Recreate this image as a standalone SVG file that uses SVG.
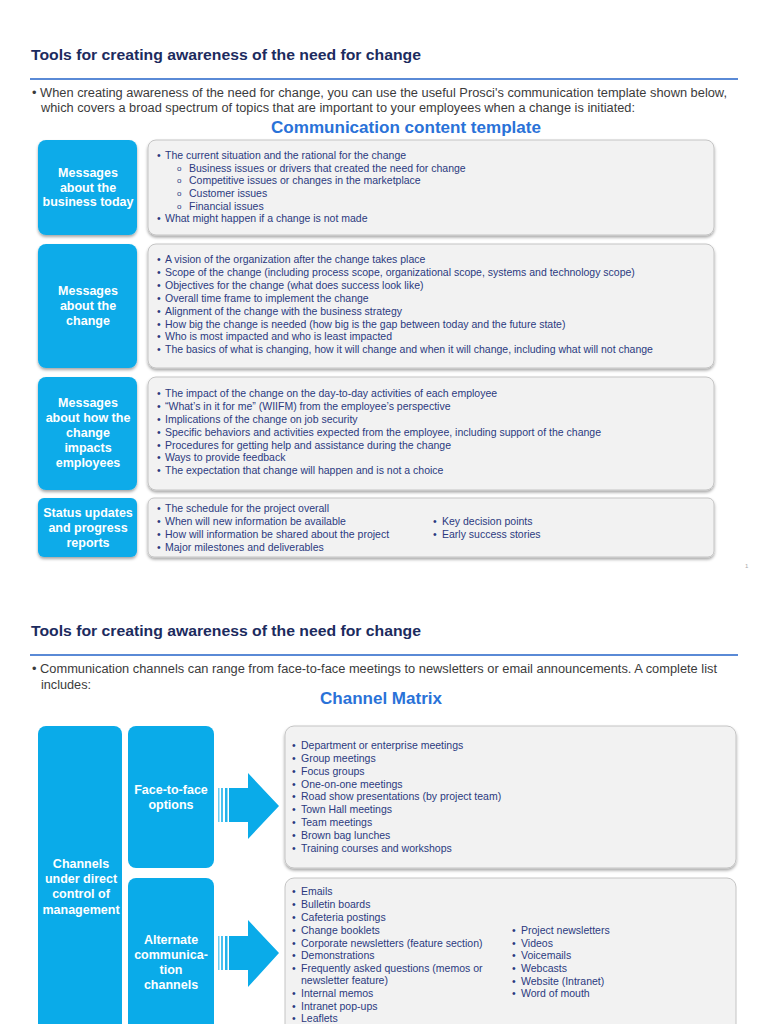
<svg xmlns="http://www.w3.org/2000/svg" width="768" height="1024" viewBox="0 0 768 1024">
<style>
.title{font-family:"Liberation Sans",Arial,sans-serif;font-size:15px;font-weight:bold;fill:#1c2b5e}
.intro{font-family:"Liberation Sans",Arial,sans-serif;font-size:12.5px;fill:#3b3b3b}
.head{font-family:"Liberation Sans",Arial,sans-serif;font-size:16px;font-weight:bold;fill:#2a72d8}
.lbl{font-family:"Liberation Sans",Arial,sans-serif;font-size:12.5px;font-weight:bold;fill:#ffffff;text-anchor:middle}
.li{font-family:"Liberation Sans",Arial,sans-serif;font-size:10.5px;fill:#2b3a80}
.sub{font-family:"Liberation Sans",Arial,sans-serif;font-size:8px;fill:#2b3a80}
.bluebox{fill:#0aabe9}
.graybox{fill:#f2f2f2;stroke:#c4c4c4;stroke-width:1}
.rule{stroke:#5a8ad6;stroke-width:2}
.arrow{fill:#0aabe9}
</style>
<defs>
<filter id="sh" x="-10%" y="-10%" width="120%" height="130%">
<feDropShadow dx="0" dy="2" stdDeviation="1.5" flood-color="#000" flood-opacity="0.35"/>
</filter>
</defs>
<rect width="768" height="1024" fill="#ffffff"/>

<!-- Page 1 header -->
<text class="title" x="31" y="60" textLength="390" lengthAdjust="spacingAndGlyphs">Tools for creating awareness of the need for change</text>
<line class="rule" x1="30" y1="79" x2="738" y2="79"/>
<text class="intro" x="32" y="97" textLength="695" lengthAdjust="spacingAndGlyphs">• When creating awareness of the need for change, you can use the useful Prosci's communication template shown below,</text>
<text class="intro" x="41" y="112" textLength="594" lengthAdjust="spacingAndGlyphs">which covers a broad spectrum of topics that are important to your employees when a change is initiated:</text>
<text class="head" x="406" y="133" text-anchor="middle" textLength="270" lengthAdjust="spacingAndGlyphs">Communication content template</text>

<!-- Row 1 -->
<g id="msg-business">
<rect class="bluebox" x="38" y="140" width="99" height="95" rx="8" filter="url(#sh)"/>
<text class="lbl" x="88" y="177">Messages</text>
<text class="lbl" x="88" y="192">about the</text>
<text class="lbl" x="88" y="206">business today</text>
</g>
<g id="list-business">
<rect class="graybox" x="148" y="140" width="566" height="95" rx="8" filter="url(#sh)"/>
<text class="li"><tspan x="157" y="159">•</tspan><tspan x="165">The current situation and the rational for the change</tspan></text>
<text class="sub" x="177" y="171">o</text><text class="li" x="189" y="172">Business issues or drivers that created the need for change</text>
<text class="sub" x="177" y="183">o</text><text class="li" x="189" y="184">Competitive issues or changes in the marketplace</text>
<text class="sub" x="177" y="196">o</text><text class="li" x="189" y="197">Customer issues</text>
<text class="sub" x="177" y="209">o</text><text class="li" x="189" y="210">Financial issues</text>
<text class="li"><tspan x="157" y="222">•</tspan><tspan x="165">What might happen if a change is not made</tspan></text>
</g>

<!-- Row 2 -->
<g id="msg-change">
<rect class="bluebox" x="38" y="244" width="99" height="124" rx="8" filter="url(#sh)"/>
<text class="lbl" x="88" y="295">Messages</text>
<text class="lbl" x="88" y="310">about the</text>
<text class="lbl" x="88" y="325">change</text>
</g>
<g id="list-change">
<rect class="graybox" x="148" y="244" width="566" height="124" rx="8" filter="url(#sh)"/>
<text class="li"><tspan x="157" y="263">•</tspan><tspan x="165">A vision of the organization after the change takes place</tspan></text>
<text class="li"><tspan x="157" y="276">•</tspan><tspan x="165">Scope of the change (including process scope, organizational scope, systems and technology scope)</tspan></text>
<text class="li"><tspan x="157" y="289">•</tspan><tspan x="165">Objectives for the change (what does success look like)</tspan></text>
<text class="li"><tspan x="157" y="302">•</tspan><tspan x="165">Overall time frame to implement the change</tspan></text>
<text class="li"><tspan x="157" y="315">•</tspan><tspan x="165">Alignment of the change with the business strategy</tspan></text>
<text class="li"><tspan x="157" y="328">•</tspan><tspan x="165">How big the change is needed (how big is the gap between today and the future state)</tspan></text>
<text class="li"><tspan x="157" y="340">•</tspan><tspan x="165">Who is most impacted and who is least impacted</tspan></text>
<text class="li"><tspan x="157" y="353">•</tspan><tspan x="165">The basics of what is changing, how it will change and when it will change, including what will not change</tspan></text>
</g>

<!-- Row 3 -->
<g id="msg-impacts">
<rect class="bluebox" x="38" y="377" width="99" height="113" rx="8" filter="url(#sh)"/>
<text class="lbl" x="88" y="407">Messages</text>
<text class="lbl" x="88" y="422">about how the</text>
<text class="lbl" x="88" y="437">change</text>
<text class="lbl" x="88" y="452">impacts</text>
<text class="lbl" x="88" y="467">employees</text>
</g>
<g id="list-impacts">
<rect class="graybox" x="148" y="377" width="566" height="113" rx="8" filter="url(#sh)"/>
<text class="li"><tspan x="157" y="397">•</tspan><tspan x="165">The impact of the change on the day-to-day activities of each employee</tspan></text>
<text class="li"><tspan x="157" y="410">•</tspan><tspan x="165">“What’s in it for me” (WIIFM) from the employee’s perspective</tspan></text>
<text class="li"><tspan x="157" y="423">•</tspan><tspan x="165">Implications of the change on job security</tspan></text>
<text class="li"><tspan x="157" y="436">•</tspan><tspan x="165">Specific behaviors and activities expected from the employee, including support of the change</tspan></text>
<text class="li"><tspan x="157" y="449">•</tspan><tspan x="165">Procedures for getting help and assistance during the change</tspan></text>
<text class="li"><tspan x="157" y="461">•</tspan><tspan x="165">Ways to provide feedback</tspan></text>
<text class="li"><tspan x="157" y="474">•</tspan><tspan x="165">The expectation that change will happen and is not a choice</tspan></text>
</g>

<!-- Row 4 -->
<g id="status">
<rect class="bluebox" x="38" y="498" width="99" height="59" rx="6" filter="url(#sh)"/>
<text class="lbl" x="88" y="517">Status updates</text>
<text class="lbl" x="88" y="532">and progress</text>
<text class="lbl" x="88" y="547">reports</text>
</g>
<g id="list-status">
<rect class="graybox" x="148" y="498" width="566" height="59" rx="6" filter="url(#sh)"/>
<text class="li"><tspan x="157" y="512">•</tspan><tspan x="165">The schedule for the project overall</tspan></text>
<text class="li"><tspan x="157" y="525">•</tspan><tspan x="165">When will new information be available</tspan></text>
<text class="li"><tspan x="157" y="538">•</tspan><tspan x="165">How will information be shared about the project</tspan></text>
<text class="li"><tspan x="157" y="551">•</tspan><tspan x="165">Major milestones and deliverables</tspan></text>
<text class="li"><tspan x="433" y="525">•</tspan><tspan x="442">Key decision points</tspan></text>
<text class="li"><tspan x="433" y="538">•</tspan><tspan x="442">Early success stories</tspan></text>
</g>
<text x="745" y="568" font-family="Liberation Sans, sans-serif" font-size="6" fill="#aaaaaa">1</text>

<!-- Page 2 header -->
<text class="title" x="31" y="636" textLength="390" lengthAdjust="spacingAndGlyphs">Tools for creating awareness of the need for change</text>
<line class="rule" x1="30" y1="655" x2="738" y2="655"/>
<text class="intro" x="32" y="673" textLength="685" lengthAdjust="spacingAndGlyphs">• Communication channels can range from face-to-face meetings to newsletters or email announcements. A complete list</text>
<text class="intro" x="41" y="689" textLength="50" lengthAdjust="spacingAndGlyphs">includes:</text>
<text class="head" x="381" y="704" text-anchor="middle" textLength="122" lengthAdjust="spacingAndGlyphs">Channel Matrix</text>

<g id="channels">
<rect class="bluebox" x="38" y="726" width="84" height="310" rx="8"/>
<text class="lbl" x="81" y="868">Channels</text>
<text class="lbl" x="81" y="883">under direct</text>
<text class="lbl" x="81" y="898">control of</text>
<text class="lbl" x="81" y="914">management</text>
</g>
<g id="face-to-face">
<rect class="bluebox" x="128" y="726" width="86" height="142" rx="8"/>
<text class="lbl" x="171" y="794">Face-to-face</text>
<text class="lbl" x="171" y="809">options</text>
</g>
<g id="alternate">
<rect class="bluebox" x="128" y="878" width="86" height="160" rx="8"/>
<text class="lbl" x="171" y="944">Alternate</text>
<text class="lbl" x="171" y="959">communica-</text>
<text class="lbl" x="171" y="974">tion</text>
<text class="lbl" x="171" y="989">channels</text>
</g>

<g id="connectors">
<rect class="arrow" x="218" y="788" width="1.5" height="34" opacity="0.6"/>
<rect class="arrow" x="221" y="788" width="2" height="34" opacity="0.75"/>
<rect class="arrow" x="225" y="788" width="2.5" height="34" opacity="0.9"/>
<polygon class="arrow" points="229,788 248,788 248,773 279,806 248,839 248,822 229,822"/>
<rect class="arrow" x="218" y="936" width="1.5" height="34" opacity="0.6"/>
<rect class="arrow" x="221" y="936" width="2" height="34" opacity="0.75"/>
<rect class="arrow" x="225" y="936" width="2.5" height="34" opacity="0.9"/>
<polygon class="arrow" points="229,936 248,936 248,920 279,953 248,987 248,970 229,970"/>
</g>

<g id="list-face">
<rect class="graybox" x="285" y="726" width="451" height="142" rx="9" filter="url(#sh)"/>
<text class="li"><tspan x="292" y="749">•</tspan><tspan x="301">Department or enterprise meetings</tspan></text>
<text class="li"><tspan x="292" y="762">•</tspan><tspan x="301">Group meetings</tspan></text>
<text class="li"><tspan x="292" y="775">•</tspan><tspan x="301">Focus groups</tspan></text>
<text class="li"><tspan x="292" y="788">•</tspan><tspan x="301">One-on-one meetings</tspan></text>
<text class="li"><tspan x="292" y="800">•</tspan><tspan x="301">Road show presentations (by project team)</tspan></text>
<text class="li"><tspan x="292" y="813">•</tspan><tspan x="301">Town Hall meetings</tspan></text>
<text class="li"><tspan x="292" y="826">•</tspan><tspan x="301">Team meetings</tspan></text>
<text class="li"><tspan x="292" y="839">•</tspan><tspan x="301">Brown bag lunches</tspan></text>
<text class="li"><tspan x="292" y="852">•</tspan><tspan x="301">Training courses and workshops</tspan></text>
</g>
<g id="list-alternate">
<rect class="graybox" x="285" y="878" width="451" height="160" rx="9"/>
<text class="li"><tspan x="292" y="895">•</tspan><tspan x="301">Emails</tspan></text>
<text class="li"><tspan x="292" y="908">•</tspan><tspan x="301">Bulletin boards</tspan></text>
<text class="li"><tspan x="292" y="921">•</tspan><tspan x="301">Cafeteria postings</tspan></text>
<text class="li"><tspan x="292" y="934">•</tspan><tspan x="301">Change booklets</tspan></text>
<text class="li"><tspan x="292" y="947">•</tspan><tspan x="301">Corporate newsletters (feature section)</tspan></text>
<text class="li"><tspan x="292" y="959">•</tspan><tspan x="301">Demonstrations</tspan></text>
<text class="li"><tspan x="292" y="972">•</tspan><tspan x="301">Frequently asked questions (memos or</tspan></text>
<text class="li" x="301" y="984">newsletter feature)</text>
<text class="li"><tspan x="292" y="997">•</tspan><tspan x="301">Internal memos</tspan></text>
<text class="li"><tspan x="292" y="1010">•</tspan><tspan x="301">Intranet pop-ups</tspan></text>
<text class="li"><tspan x="292" y="1022">•</tspan><tspan x="301">Leaflets</tspan></text>
<text class="li"><tspan x="512" y="934">•</tspan><tspan x="521">Project newsletters</tspan></text>
<text class="li"><tspan x="512" y="947">•</tspan><tspan x="521">Videos</tspan></text>
<text class="li"><tspan x="512" y="959">•</tspan><tspan x="521">Voicemails</tspan></text>
<text class="li"><tspan x="512" y="972">•</tspan><tspan x="521">Webcasts</tspan></text>
<text class="li"><tspan x="512" y="985">•</tspan><tspan x="521">Website (Intranet)</tspan></text>
<text class="li"><tspan x="512" y="997">•</tspan><tspan x="521">Word of mouth</tspan></text>
</g>
</svg>
